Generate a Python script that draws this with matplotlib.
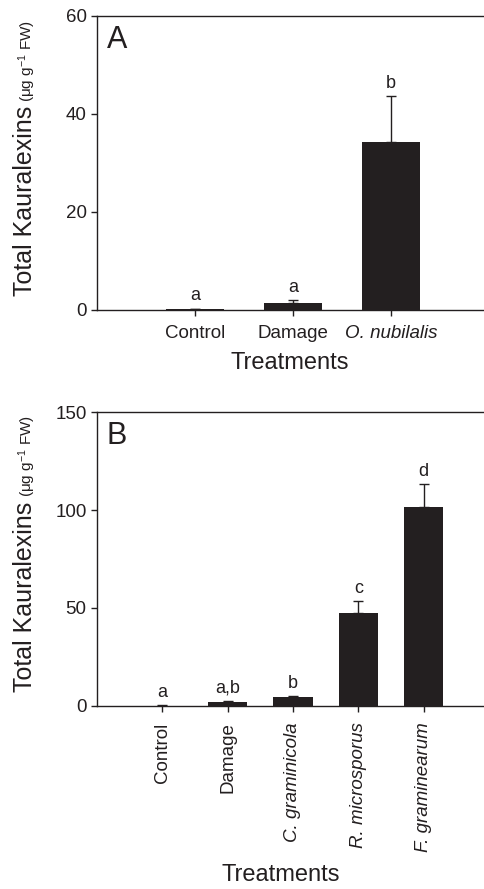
import numpy as np
import matplotlib.pyplot as plt

plt.rcParams['font.family'] = ['Liberation Sans', 'DejaVu Sans']
plt.rcParams['mathtext.default'] = 'regular'

W, H = 484, 889
ink = '#231f20'

# panel A
cats_a = ["Control", "Damage", "O. nubilalis"]
vals_a = [0.2, 1.5, 34.3]
errs_a = [0.1, 0.6, 9.4]
letters_a = ["a", "a", "b"]

# panel B
cats_b = ["Control", "Damage", "C. graminicola", "R. microsporus", "F. graminearum"]
vals_b = [0.1, 2.0, 4.5, 47.6, 101.7]
errs_b = [0.1, 0.6, 0.4, 6.0, 11.6]
letters_b = ["a", "a,b", "b", "c", "d"]

fig = plt.figure(figsize=(W / 100, H / 100), dpi=100)
# axes boxes in pixels (left, top, right, bottom) - right edge runs past the figure
ax_a = fig.add_axes([97 / W, 1 - 310 / H, 392 / W, 294 / H])
ax_b = fig.add_axes([97 / W, 1 - 705.7 / H, 392 / W, 293.4 / H])


def draw_panel(ax, cats, vals, errs, letters, ymax, yticks, tag, rot):
    x = np.arange(len(cats))
    ax.bar(x, vals, 0.6, color=ink, zorder=2)
    ax.errorbar(x, vals, yerr=[np.zeros(len(vals)), errs], fmt='none',
                ecolor=ink, elinewidth=1, capsize=3.3, capthick=1, zorder=3)
    for xi, v, e, s in zip(x, vals, errs, letters):
        ax.annotate(s, (xi, v + e), xytext=(0, 3), textcoords='offset points',
                    ha='center', va='bottom', fontsize=13, color=ink)
    ax.set_xlim(-1, len(cats))
    ax.set_ylim(0, ymax)
    ax.set_yticks(yticks)
    ax.set_xticks(x)
    if rot:
        ax.set_xticklabels(cats, rotation=90, ha='center', va='top')
    else:
        ax.set_xticklabels(cats)
    for i, lab in enumerate(ax.get_xticklabels()):
        if i >= 2:
            lab.set_fontstyle('italic')
    ax.tick_params(axis='both', direction='out', length=4, width=1, colors=ink,
                   labelsize=13.5)
    ax.tick_params(axis='x', pad=8 if rot else 7)
    for sp in ax.spines.values():
        sp.set_linewidth(1)
        sp.set_color(ink)
    ax.text(0.025, 0.97, tag, transform=ax.transAxes, fontsize=22,
            ha='left', va='top', color=ink)


draw_panel(ax_a, cats_a, vals_a, errs_a, letters_a, 60, [0, 20, 40, 60], "A", False)
draw_panel(ax_b, cats_b, vals_b, errs_b, letters_b, 150, [0, 50, 100, 150], "B", True)

fig.text(290 / W, 1 - 363 / H, "Treatments", fontsize=17, ha='center', va='center', color=ink)
fig.text(281 / W, 1 - 875 / H, "Treatments", fontsize=17, ha='center', va='center', color=ink)

# y labels: big main text plus smaller units on the same baseline
renderer = fig.canvas.get_renderer()
for ax in (ax_a, ax_b):
    bb = ax.get_window_extent(renderer)
    x0 = 31.7 / W
    y0 = (bb.y0 + 14) / H
    t1 = fig.text(x0, y0, "Total Kauralexins", rotation=90, rotation_mode='anchor',
                  ha='left', va='baseline', fontsize=18, color=ink)
    ext = t1.get_window_extent(renderer)
    fig.text(x0, (ext.y1 + 4) / H, "(\u03bcg g$^{-1}$ FW)", rotation=90,
             rotation_mode='anchor', ha='left', va='baseline', fontsize=11, color=ink)

fig.savefig("out.png", dpi=100)
